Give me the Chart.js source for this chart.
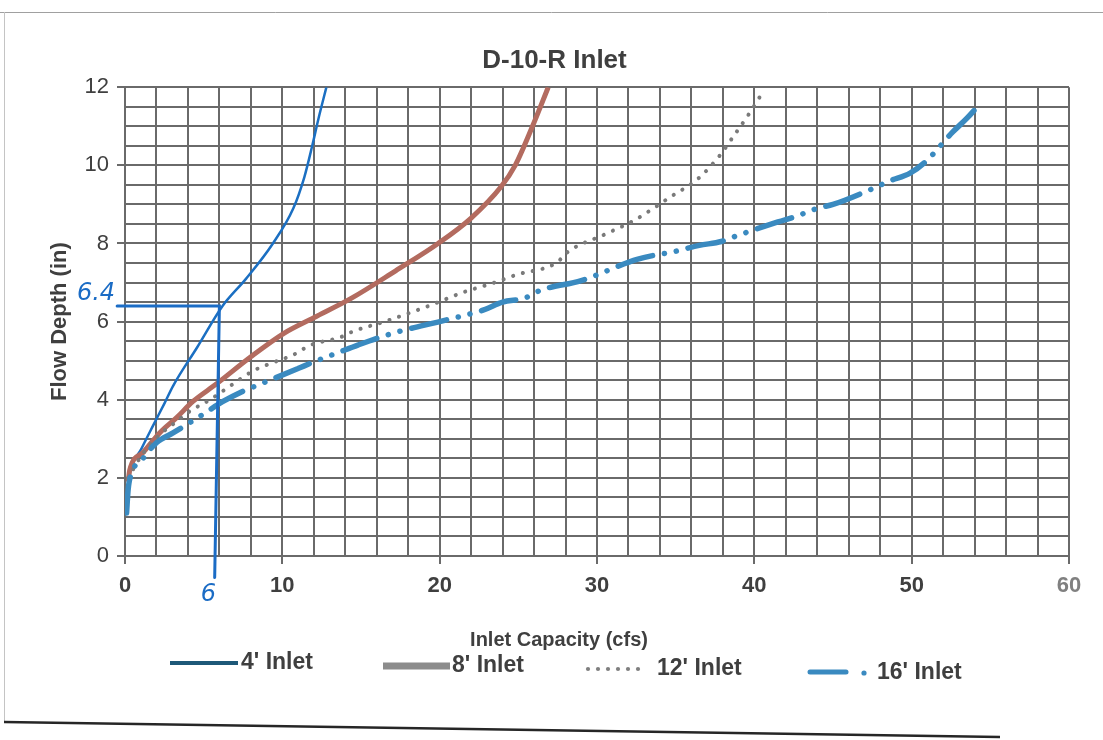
<!DOCTYPE html>
<html><head><meta charset="utf-8">
<script src="https://cdn.jsdelivr.net/npm/chart.js@4.4.0/dist/chart.umd.min.js"></script>
<style>html,body{margin:0;padding:0;background:#fff}canvas{display:block}</style>
</head><body>
<canvas id="c" width="1103" height="740"></canvas>
<script>
// ---- chart text ----
const chartTitle = "D-10-R Inlet";
const xAxisTitle = "Inlet Capacity (cfs)";
const yAxisTitle = "Flow Depth (in)";
const seriesNames = ["4' Inlet", "8' Inlet", "12' Inlet", "16' Inlet"];
const xTickLabels = [0, 10, 20, 30, 40, 50, 60];
const yTickLabels = [0, 2, 4, 6, 8, 10, 12];

// ---- series values ----
const cap4   = [0.2, 0.3, 1.05, 1.8, 2.5, 3.05, 4.6, 6.2, 7.7, 9.4, 10.7, 11.4, 11.9, 12.3, 12.8];
const depth4 = [1.8, 2.1, 2.75, 3.35, 3.9, 4.35, 5.35, 6.4, 7.1, 8.0, 8.9, 9.7, 10.5, 11.2, 12.0];

const cap8   = [0.2, 0.3, 1.15, 2.2, 3.3, 4.3, 5.8, 8.0, 10.1, 12.0, 14.4, 17.2, 19.9, 22.0, 23.9, 24.8, 25.9, 26.9];
const depth8 = [1.9, 2.2, 2.65, 3.15, 3.55, 3.95, 4.4, 5.1, 5.7, 6.1, 6.6, 7.3, 8.0, 8.65, 9.45, 10.0, 11.0, 12.0];

const cap12   = [0.2, 1.1, 2.2, 3.3, 4.1, 5.4, 6.5, 8.2, 9.4, 10.7, 11.8, 13.7, 14.5, 16.5, 19.3, 21.5, 23.5, 24.9, 27.4, 28.2, 30.6, 32.4, 34.7, 36.4, 37.8, 38.6, 39.8, 40.5];
const depth12 = [2.0, 2.6, 3.1, 3.45, 3.7, 4.0, 4.3, 4.75, 4.95, 5.15, 5.4, 5.6, 5.75, 6.0, 6.4, 6.75, 7.0, 7.2, 7.5, 7.8, 8.25, 8.6, 9.2, 9.65, 10.25, 10.7, 11.4, 11.85];

const cap16   = [0.1, 0.2, 0.4, 1.15, 2.0, 3.05, 5.05, 6.2, 7.4, 8.6, 11.0, 12.2, 13.5, 14.8, 17.0, 20.5, 22.8, 24.0, 25.4, 26.4, 29.0, 32.6, 35.0, 36.5, 37.9, 38.9, 41.5, 42.7, 44.0, 45.0, 47.5, 48.6, 49.9, 50.9, 52.6, 53.5, 54.4];
const depth16 = [1.1, 1.7, 2.1, 2.5, 2.9, 3.15, 3.65, 3.95, 4.2, 4.4, 4.8, 5.0, 5.2, 5.4, 5.7, 6.05, 6.3, 6.5, 6.6, 6.8, 7.05, 7.6, 7.8, 7.95, 8.05, 8.2, 8.55, 8.7, 8.9, 9.0, 9.4, 9.6, 9.8, 10.1, 10.85, 11.2, 11.6];

// handwritten reading on the scan
const markCap = 6;
const markDepth = 6.4;
const markLabels = ["6.4", "6"];

const pairs = (xs, ys) => xs.map((x, i) => ({ x: x, y: ys[i] }));

const FONT = "'Liberation Sans', Arial, sans-serif";
const TXT = '#3f3f3f';
const GRID = '#6a6a6a';

const decor = {
  id: 'decor',
  beforeDraw(chart) {
    const ctx = chart.ctx;
    ctx.save();
    ctx.fillStyle = '#fff';
    ctx.fillRect(0, 0, chart.width, chart.height);
    // scanned page edges
    ctx.strokeStyle = '#a0a0a0'; ctx.lineWidth = 1;
    ctx.beginPath(); ctx.moveTo(0, 12.5); ctx.lineTo(chart.width, 12.5); ctx.stroke();
    ctx.strokeStyle = '#c4c4c4';
    ctx.beginPath(); ctx.moveTo(4.5, 12); ctx.lineTo(4.5, 722); ctx.stroke();
    ctx.strokeStyle = '#262626'; ctx.lineWidth = 2.5;
    ctx.beginPath(); ctx.moveTo(4, 722); ctx.lineTo(1000, 737); ctx.stroke();
    ctx.restore();
  },
  afterDraw(chart) {
    const ctx = chart.ctx;
    const xs = chart.scales.x, ys = chart.scales.y;
    ctx.save();
    // x-axis title
    ctx.fillStyle = TXT;
    ctx.font = "bold 20px " + FONT;
    ctx.textAlign = 'center'; ctx.textBaseline = 'middle';
    ctx.fillText(xAxisTitle, 559, 640);

    // legend
    const ly = 667;
    const ds = chart.data.datasets;
    ctx.font = "bold 23px " + FONT;
    ctx.textAlign = 'left'; ctx.textBaseline = 'middle';
    // 4'
    ctx.strokeStyle = '#1d5878'; ctx.lineWidth = 4; ctx.lineCap = 'butt';
    ctx.beginPath(); ctx.moveTo(170, ly - 4); ctx.lineTo(238, ly - 4); ctx.stroke();
    ctx.fillStyle = TXT; ctx.fillText(ds[0].label, 241, ly - 4);
    // 8'
    ctx.strokeStyle = '#8c8c8c'; ctx.lineWidth = 7;
    ctx.beginPath(); ctx.moveTo(383, ly - 1); ctx.lineTo(450, ly - 1); ctx.stroke();
    ctx.fillText(ds[1].label, 452, ly - 1);
    // 12'
    ctx.fillStyle = '#7e7e7e';
    for (let k = 0; k < 6; k++) { ctx.beginPath(); ctx.arc(588 + k * 10, ly + 2, 2.1, 0, Math.PI * 2); ctx.fill(); }
    ctx.fillStyle = TXT; ctx.fillText(ds[2].label, 657, ly + 2);
    // 16'
    ctx.strokeStyle = '#3a8ac0'; ctx.lineWidth = 5; ctx.lineCap = 'round';
    ctx.beginPath(); ctx.moveTo(810, ly + 5); ctx.lineTo(846, ly + 5); ctx.stroke();
    ctx.fillStyle = '#3a8ac0'; ctx.beginPath(); ctx.arc(864, ly + 6, 2.6, 0, Math.PI * 2); ctx.fill();
    ctx.fillStyle = TXT; ctx.fillText(ds[3].label, 877, ly + 6);

    // handwritten reading lines
    const px = xs.getPixelForValue(markCap), py = ys.getPixelForValue(markDepth);
    ctx.strokeStyle = '#1b6cc5'; ctx.lineWidth = 3; ctx.lineCap = 'round';
    ctx.beginPath();
    ctx.moveTo(xs.getPixelForValue(-0.5), py);
    ctx.lineTo(px, py);
    ctx.lineTo(xs.getPixelForValue(markCap - 0.3), ys.getPixelForValue(-0.55));
    ctx.stroke();
    ctx.fillStyle = '#1b6cc5';
    ctx.font = "italic 24px 'DejaVu Sans', sans-serif";
    ctx.textAlign = 'right'; ctx.textBaseline = 'alphabetic';
    ctx.fillText(markLabels[0], xs.getPixelForValue(-0.5) - 2, py - 6);
    ctx.textAlign = 'center'; ctx.textBaseline = 'middle';
    ctx.fillText(markLabels[1], xs.getPixelForValue(markCap - 0.7), ys.getPixelForValue(-1.0));
    ctx.restore();
  }
};

new Chart(document.getElementById('c'), {
  type: 'line',
  data: {
    datasets: [
      { label: seriesNames[0], data: pairs(cap4, depth4), borderColor: '#1b6fc2', borderWidth: 2.5,
        pointRadius: 0, cubicInterpolationMode: 'monotone', order: 4, fill: false },
      { label: seriesNames[1], data: pairs(cap8, depth8), borderColor: '#b36b5f', borderWidth: 5,
        pointRadius: 0, cubicInterpolationMode: 'monotone', order: 3, fill: false },
      { label: seriesNames[2], data: pairs(cap12, depth12), borderColor: '#7a7a7a', borderWidth: 4,
        borderDash: [0.1, 10], borderCapStyle: 'round',
        pointRadius: 0, cubicInterpolationMode: 'monotone', order: 2, fill: false },
      { label: seriesNames[3], data: pairs(cap16, depth16), borderColor: '#3a8ac0', borderWidth: 5.5,
        borderDash: [36, 12, 0.1, 12, 0.1, 12], borderCapStyle: 'round',
        pointRadius: 0, cubicInterpolationMode: 'monotone', order: 1, fill: false }
    ]
  },
  options: {
    responsive: false,
    animation: false,
    devicePixelRatio: 1,
    layout: { padding: { left: 40, right: 34, top: 30, bottom: 144 } },
    plugins: {
      legend: { display: false },
      tooltip: { enabled: false },
      title: {
        display: true, text: chartTitle, color: TXT,
        font: { family: FONT, size: 26, weight: 'bold' },
        padding: { top: 15, bottom: 11 }
      }
    },
    scales: {
      x: {
        type: 'linear', min: 0, max: 60,
        afterFit: s => { s.height = 40; },
        ticks: {
          stepSize: 2, autoSkip: false, maxRotation: 0, padding: 9,
          color: c => (c.tick && c.tick.value === 60 ? '#808080' : TXT),
          font: { family: FONT, size: 22, weight: 'bold' },
          callback: v => (xTickLabels.includes(v) ? String(v) : '')
        },
        grid: {
          color: GRID, lineWidth: 2, tickLength: 8,
          tickColor: c => (c.tick && xTickLabels.includes(c.tick.value) ? GRID : 'rgba(0,0,0,0)')
        },
        border: { display: true, color: GRID, width: 2 }
      },
      y: {
        type: 'linear', min: 0, max: 12,
        afterFit: s => { s.width = 85; },
        title: {
          display: true, text: yAxisTitle, color: TXT,
          font: { family: FONT, size: 22, weight: 'bold' },
          padding: { top: 7, bottom: 4 }
        },
        ticks: {
          stepSize: 0.5, autoSkip: false, padding: 8, color: TXT,
          font: { family: FONT, size: 22 },
          callback: v => (yTickLabels.includes(v) ? String(v) : '')
        },
        grid: {
          color: GRID, lineWidth: 2, tickLength: 8,
          tickColor: c => (c.tick && yTickLabels.includes(c.tick.value) ? GRID : 'rgba(0,0,0,0)')
        },
        border: { display: true, color: GRID, width: 2 }
      }
    }
  },
  plugins: [decor]
});
</script>
</body></html>
